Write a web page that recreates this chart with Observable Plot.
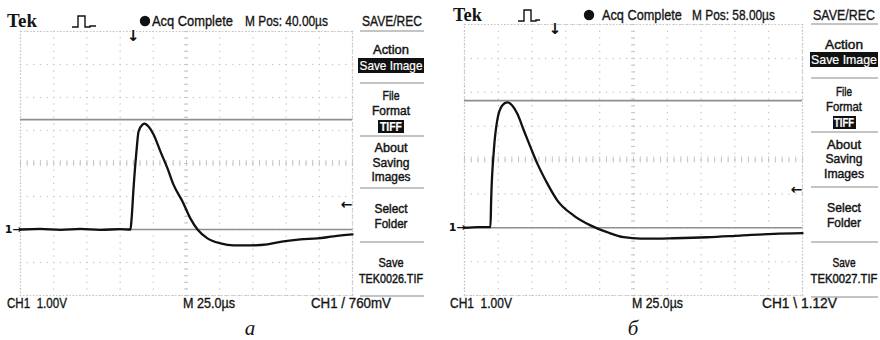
<!DOCTYPE html>
<html>
<head>
<meta charset="utf-8">
<script src="https://cdn.jsdelivr.net/npm/d3@7"></script>
<script src="https://cdn.jsdelivr.net/npm/@observablehq/plot@0.6"></script>
<style>
  html, body { margin: 0; padding: 0; background: #fff; }
  #wrap { position: relative; width: 880px; height: 340px; background: #fff; overflow: hidden; }
  #wrap svg { position: absolute; top: 0; }
</style>
</head>
<body>
<div id="wrap"></div>
<script>
// ---------- data (time in µs across the screen, 25 µs/div; volts, 1 V/div) ----------
const leftTime  = [0, 15, 30, 45, 60, 75, 82.8, 83.6, 85.1, 87.3, 88.9, 91.9, 93.4, 96.4, 100.2, 105.4, 110.7, 115.2, 122, 128, 133.3, 140.8, 150.6, 160.4, 173.2, 186, 198, 210.8, 223.6, 235.7, 250];
const leftVolts = [0, 0.02, -0.01, 0.02, -0.01, 0.01, 0, 0.3, 1.24, 2.36, 2.97, 3.18, 3.21, 3.12, 2.88, 2.36, 1.85, 1.36, 0.85, 0.33, 0, -0.27, -0.42, -0.48, -0.48, -0.45, -0.36, -0.30, -0.27, -0.21, -0.15];
const rightTime  = [0, 10, 19.2, 19.7, 21.7, 24.2, 27.9, 31.6, 35.3, 39, 43.9, 48.8, 53.8, 61.2, 68.6, 80.8, 93.2, 105.5, 117.8, 130.2, 142.5, 154.8, 179.5, 204.1, 228.8, 250];
const rightVolts = [0, 0.02, 0.02, 0.8, 2.28, 3.17, 3.61, 3.7, 3.61, 3.37, 2.87, 2.38, 1.9, 1.31, 0.81, 0.36, 0.07, -0.13, -0.28, -0.32, -0.32, -0.31, -0.28, -0.23, -0.18, -0.16];
const cursorVolts   = [3.33, 3.75];
const triggerLevels = [0.76, 1.12];
const mPosValues    = [40, 58];
const mPosLabels    = ["M Pos: 40.00\u00b5s", "M Pos: 58.00\u00b5s"];
const ch1Labels     = ["CH1  1.00V", "CH1  1.00V"];
const timebaseLabel = "M 25.0\u00b5s";
const triggerLabels = ["CH1 / 760mV", "CH1 \\ 1.12V"];
const fileNames     = ["TEK0026.TIF", "TEK0027.TIF"];
const captions      = ["\u0430", "\u0431"];
const headerLabels  = ["Tek", "Acq Complete"];
const menuTitle     = "SAVE/REC";
const menuGroups    = [["Action"], ["Save Image"], ["File", "Format"], ["TIFF"], ["About", "Saving", "Images"], ["Select", "Folder"], ["Save"]];

// ---------- layout ----------
const panelLayouts = [
  { left: 0, mL: 20, mR: 88, mT: 31, mB: 45,
    tek: [7, 27, 30], pulse: "M72,27H78V16H85V27H90V26H96", dot: [145, 21], acq: [152, 26, 81], mpos: [245, 26, 83],
    menuX: 391, title: [362, 26, 60],
    groups: [[[54,36]], [[70,63]], [[100.5,17],[115.1,38]], [[131,22]], [[152,33],[166.6,37],[181.2,39]], [[213.4,33],[228,33]], [[267,25],[283,64]]],
    saveRect: [358, 58, 66, 15], tiffRect: [378, 120, 26, 13], seps: [31, 83, 136, 188, 242, 296], sepX: [360, 424],
    bottom: [[7, 60], [183, 52], [311, 80]], caption: 250 },
  { left: 440, mL: 24, mR: 78, mT: 24, mB: 45,
    tek: [13, 21, 29], pulse: "M78,21H84V10H91V21H96V20H100", dot: [149, 15], acq: [162, 20, 80], mpos: [252, 20, 83],
    menuX: 404, title: [373, 20, 62],
    groups: [[[49,38]], [[64,66]], [[96,16],[111,36]], [[127,20]], [[148.6,34],[163.2,37],[177.8,40]], [[212.4,34],[227,34]], [[267,23],[283,67]]],
    saveRect: [370, 52, 68, 15], tiffRect: [393, 116, 23, 13], seps: [24, 78, 132, 187, 242, 297], sepX: [371, 438],
    bottom: [[10, 62], [192, 51], [322, 75]], caption: 193 }
];

const SANS = "'Liberation Sans', Arial, sans-serif";
const SERIF = "'Liberation Serif', 'Times New Roman', serif";

function gridData() {
  const dots = [];
  for (let v = -2; v <= 6; v++) for (let t = 0; t <= 250; t += 5) dots.push({t, v});
  for (let t = 0; t <= 250; t += 25) for (let k = 0; k <= 40; k++) dots.push({t, v: -2 + k * 0.2});
  return dots;
}
const gridDots = gridData();
const centerYTicks = d3.range(-2, 6.001, 0.2);
const centerXTicks = d3.range(0, 250.001, 5);

const wrap = document.getElementById("wrap");

function makePanel(i) {
  const L = panelLayouts[i];
  const time = i === 0 ? leftTime : rightTime;
  const volts = i === 0 ? leftVolts : rightVolts;
  const trace = time.map((t, k) => ({t, v: volts[k]}));
  const trigPos = 125 - mPosValues[i];
  const svg = Plot.plot({
    width: 440, height: 340,
    marginLeft: L.mL, marginRight: L.mR, marginTop: L.mT, marginBottom: L.mB,
    x: {domain: [0, 250], axis: null},
    y: {domain: [-2, 6], axis: null},
    style: {background: "transparent", overflow: "visible"},
    marks: [
      Plot.dot(gridDots, {x: "t", y: "v", r: 0.75, fill: "#c6c6c6", stroke: null}),
      Plot.ruleY(centerYTicks, {y: d => d, x1: 123.5, x2: 126.5, stroke: "#c6c6c6", strokeWidth: 1}),
      Plot.ruleX(centerXTicks, {x: d => d, y1: 1.91, y2: 2.09, stroke: "#c6c6c6", strokeWidth: 1}),
      Plot.frame({stroke: "#c6c6c6", strokeWidth: 1.2, strokeDasharray: "1.5,1.8"}),
      Plot.ruleY([cursorVolts[i]], {stroke: "#8f8f8f", strokeWidth: 1.7}),
      Plot.ruleY([0], {stroke: "#8f8f8f", strokeWidth: 1.7}),
      Plot.line(trace, {x: "t", y: "v", stroke: "#111", strokeWidth: 2.3, curve: "monotone-x"}),
      Plot.text([trigPos], {x: d => d, frameAnchor: "top", lineAnchor: "top", dy: -1, text: () => "\u2193",
        fontSize: 15, fontWeight: "bold", fill: "#111", fontFamily: "DejaVu Sans"}),
      Plot.text([triggerLevels[i]], {y: d => d, frameAnchor: "right", textAnchor: "end", dx: 0, text: () => "\u2190",
        fontSize: 14, fontWeight: "bold", fill: "#111", fontFamily: "DejaVu Sans"}),
      Plot.text([0], {y: d => d, frameAnchor: "left", textAnchor: "end", dx: 1, text: () => "1\u2192",
        fontSize: 11, fontWeight: "bold", fill: "#111", fontFamily: "DejaVu Sans"})
    ]
  });
  svg.style.left = L.left + "px";
  wrap.appendChild(svg);
  const g = d3.select(svg).append("g").attr("class", "ui");
  // one <text> per line, squeezed horizontally to the measured width
  const txt = (s, x, y, o = {}) => {
    const t = g.append("text").attr("x", 0).attr("y", y).text(s)
      .attr("font-family", o.family || SANS).attr("font-size", o.size || 14)
      .attr("fill", o.fill || "#151515").attr("text-anchor", o.anchor || "start");
    if (o.weight) t.attr("font-weight", o.weight);
    if (o.italic) t.attr("font-style", "italic");
    if (o.thick) t.attr("stroke", o.fill || "#151515").attr("stroke-width", o.thick);
    let sx = 1;
    if (o.w) {
      const nat = t.node().getComputedTextLength();
      if (nat > 0) sx = o.w / nat;
    }
    t.attr("transform", `translate(${x},0) scale(${sx},1)`);
    return t;
  };
  const TH = 0.35;
  // header
  txt(headerLabels[0], L.tek[0], L.tek[1], {family: SERIF, size: 18, weight: "bold", w: L.tek[2]});
  g.append("path").attr("d", L.pulse).attr("fill", "none").attr("stroke", "#111").attr("stroke-width", 1.4);
  g.append("circle").attr("cx", L.dot[0]).attr("cy", L.dot[1]).attr("r", 5.2).attr("fill", "#111");
  txt(headerLabels[1], L.acq[0], L.acq[1], {w: L.acq[2], thick: TH, size: 15});
  txt(mPosLabels[i], L.mpos[0], L.mpos[1], {w: L.mpos[2], thick: TH, size: 15});
  // menu
  txt(menuTitle, L.title[0], L.title[1], {w: L.title[2], thick: TH, size: 15});
  L.seps.forEach(y => g.append("line").attr("x1", L.sepX[0]).attr("x2", L.sepX[1]).attr("y1", y).attr("y2", y)
    .attr("stroke", "#b0b0b0").attr("stroke-width", 1.5));
  g.append("rect").attr("x", L.saveRect[0]).attr("y", L.saveRect[1]).attr("width", L.saveRect[2]).attr("height", L.saveRect[3]).attr("fill", "#111");
  g.append("rect").attr("x", L.tiffRect[0]).attr("y", L.tiffRect[1]).attr("width", L.tiffRect[2]).attr("height", L.tiffRect[3]).attr("fill", "#111");
  menuGroups.forEach((grp, k) => {
    const names = grp.slice();
    if (k === menuGroups.length - 1) names.push(fileNames[i]);
    const inv = (names[0] === "Save Image" || names[0] === "TIFF");
    const isTiff = names[0] === "TIFF";
    names.forEach((s, j) => {
      txt(s, L.menuX, L.groups[k][j][0], {anchor: "middle", w: L.groups[k][j][1], fill: inv ? "#fff" : "#151515",
        size: isTiff ? 12 : 13, weight: isTiff ? "bold" : null, thick: inv ? 0.2 : 0.45});
    });
  });
  // bottom status line
  txt(ch1Labels[i], L.bottom[0][0], 308, {w: L.bottom[0][1], thick: TH});
  txt(timebaseLabel, L.bottom[1][0], 308, {w: L.bottom[1][1], thick: TH});
  txt(triggerLabels[i], L.bottom[2][0], 308, {w: L.bottom[2][1], thick: TH});
  // caption
  txt(captions[i], L.caption, 335, {family: SERIF, size: 21, italic: true, anchor: "middle"});
  return svg;
}

makePanel(0);
makePanel(1);
</script>
</body>
</html>
